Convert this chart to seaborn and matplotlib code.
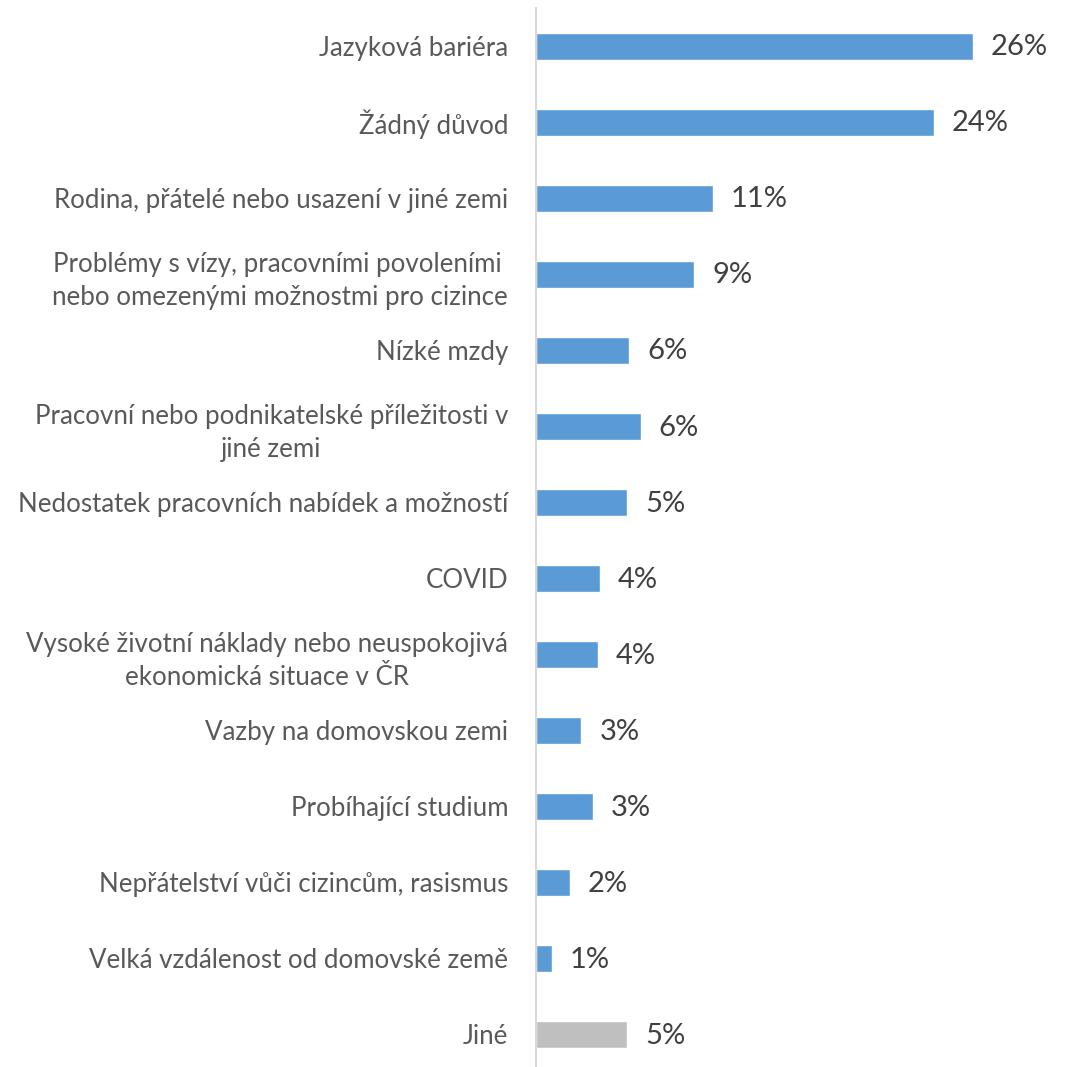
import matplotlib
matplotlib.use("Agg")
import matplotlib.pyplot as plt
import seaborn as sns

categories = [
    "Jazyková bariéra",
    "Žádný důvod",
    "Rodina, přátelé nebo usazení v jiné zemi",
    "Problémy s vízy, pracovními povoleními \nnebo omezenými možnostmi pro cizince",
    "Nízké mzdy",
    "Pracovní nebo podnikatelské příležitosti v\njiné zemi",
    "Nedostatek pracovních nabídek a možností",
    "COVID",
    "Vysoké životní náklady nebo neuspokojivá\nekonomická situace v ČR",
    "Vazby na domovskou zemi",
    "Probíhající studium",
    "Nepřátelství vůči cizincům, rasismus",
    "Velká vzdálenost od domovské země",
    "Jiné",
]
values = [26.0, 23.65, 10.5, 9.4, 5.55, 6.23, 5.42, 3.79, 3.67, 2.70, 3.39, 2.02, 0.93, 5.44]
value_labels = ["26%", "24%", "11%", "9%", "6%", "6%", "5%", "4%", "4%", "3%", "3%", "2%", "1%", "5%"]
colors = ["#5B9BD5"] * 13 + ["#BFBFBF"]

sns.set_style("white")
plt.rcParams["font.family"] = ["Lato", "DejaVu Sans"]

fig = plt.figure(figsize=(10.73, 10.67), dpi=100)
ax = fig.add_axes([536 / 1073, 0, 0.47, 1 - 8 / 1067])

sns.barplot(x=values, y=categories, hue=categories, palette=colors,
            legend=False, width=0.355, orient="h", ax=ax, saturation=1)

ax.set_xlim(0, 30)
ax.set_ylim(13.43, -0.5)
ax.set_xticks([])
ax.set_xlabel("")
ax.set_ylabel("")

for s in ["top", "right", "bottom"]:
    ax.spines[s].set_visible(False)
ax.spines["left"].set_color("#D9D9D9")
ax.spines["left"].set_linewidth(1.5)

ax.tick_params(axis="y", length=0, pad=20, labelsize=18.6, labelcolor="#595959")
for lbl in ax.get_yticklabels():
    lbl.set_multialignment("center")
    lbl.set_linespacing(1.4)

for i, (v, t) in enumerate(zip(values, value_labels)):
    ax.annotate(t, xy=(v, i), xytext=(13, -1), textcoords="offset points",
                va="center", ha="left", fontsize=21, color="#404040")

fig.savefig("out.png", dpi=100)
